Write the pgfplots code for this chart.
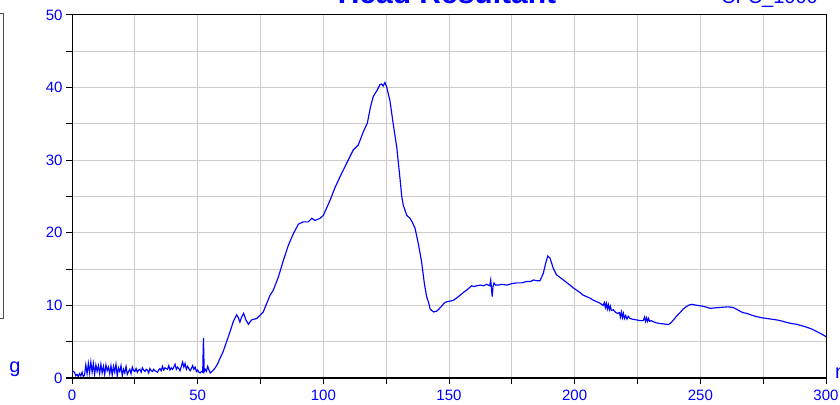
\documentclass[border=0pt]{standalone}
\usepackage{pgfplots}
\pgfplotsset{compat=1.18}
\usepackage{fontspec}
\setmainfont{Liberation Sans}
\definecolor{gridgray}{RGB}{204,204,204}
\definecolor{pblue}{RGB}{0,0,255}
\begin{document}
\begin{tikzpicture}[x=1pt,y=1pt]
\useasboundingbox (0,0) rectangle (840,404);
\begin{axis}[
  at={(72pt,26pt)}, anchor=south west,
  scale only axis, width=754pt, height=363pt,
  xmin=0, xmax=300, ymin=0, ymax=50,
  xtick={0,50,...,300}, minor xtick={25,75,...,275},
  ytick={0,10,...,50}, minor ytick={5,15,...,45},
  grid=both,
  major grid style={gridgray, line width=1pt},
  minor grid style={gridgray, line width=1pt},
  xtick pos=left, ytick pos=left,
  tick align=outside,
  major tick length=6pt, minor tick length=6pt,
  tick style={black, line width=1pt},
  axis line style={black, line width=1pt},
  tick label style={font=\fontsize{15}{15}\selectfont, text=pblue},
  /pgf/number format/assume math mode=true,
  xticklabel style={yshift=-2pt},
]
\addplot[pblue, line width=1.15pt] coordinates {
(0,1.0) (0.5,0.9) (1,0.8) (1.5,0.3) (2,0.5) (2.5,0.2) (3,0.6) (3.5,0.3) (4,0.8) (4.5,0.2)
(5,0.4) (5.5,1.8) (6,0.6) (6.5,2.0) (7,0.7) (7.5,2.2) (8,0.8) (8.5,2.0) (9,0.5) (9.5,1.8)
(10,0.9) (10.5,1.7) (11,0.6) (11.5,1.9) (12,0.7) (12.5,1.6) (13,0.5) (13.5,1.8) (14,1.0) (14.5,1.5)
(15,0.6) (15.5,1.7) (16,0.4) (16.5,1.6) (17,0.8) (17.5,1.9) (18,0.3) (18.5,1.4) (19,0.9) (19.5,1.7)
(20,0.3) (20.5,1.2) (21,0.7) (21.5,1.6) (22,0.5) (22.5,0.9) (23,1.2) (23.5,0.6) (24,1.5) (24.5,1.0)
(25,0.9) (25.5,1.3) (26,0.8) (26.5,1.1) (27,1.2) (27.5,0.8) (28,1.4) (28.5,1.1) (29,0.9) (29.5,1.2)
(30,1.1) (30.5,0.7) (31,1.3) (31.5,1.0) (32,0.9) (32.5,1.2) (33,1.0) (33.5,0.9) (34,0.8) (34.5,1.1)
(35,1.3) (35.5,1.0) (36,1.6) (36.5,1.1) (37,1.4) (37.5,1.3) (38,1.2) (38.5,1.7) (39,1.1) (39.5,1.4)
(40,1.2) (40.5,1.5) (41,1.9) (41.5,1.2) (42,1.5) (42.5,1.3) (43,1.0) (43.5,1.6) (44,2.2) (44.5,1.5)
(45,2.0) (45.5,1.2) (46,1.6) (46.5,1.3) (47,1.0) (47.5,1.3) (48,1.7) (48.5,1.2) (49,1.5) (49.5,0.9)
(50,1.1) (50.5,0.8) (51,0.7) (51.5,0.9) (52,0.8) (52.3,5.5) (52.6,0.9) (53,1.2) (53.5,0.9) (54,1.6)
(54.5,1.1) (55,0.7) (56,1.0) (57,1.4) (58,2.0) (59,2.8) (60,3.5) (61,4.5) (62,5.5) (63,6.5)
(64.2,7.8) (65.5,8.7) (66.2,8.3) (66.8,7.7) (67.5,8.4) (68.3,8.9) (69.2,8.0) (70.2,7.4) (71,7.8) (71.5,8.0)
(73.5,8.2) (75,8.7) (76.1,9.1) (77.5,10.3) (78.8,11.4) (80.1,12.1) (82.1,13.9) (84.1,16.2) (86.1,18.3) (88.1,19.9)
(90.1,21.2) (92,21.5) (94,21.5) (95.4,22.0) (96.7,21.7) (98.7,22.0) (100,22.4) (101.3,23.4) (102.7,24.5) (104.6,26.2)
(107.3,28.2) (109.3,29.6) (111.9,31.4) (113.9,32.1) (115.9,33.9) (117.5,35.1) (118.8,37.4) (119.9,38.8) (121.5,39.7) (122.5,40.4)
(123.2,40.5) (123.8,40.2) (124.5,40.7) (125.2,40.1) (126.5,38.2) (127.8,35.0) (129.2,31.8) (130.5,27.5) (131.2,25.0) (131.8,23.8)
(133.2,22.4) (134.5,22.0) (135.5,21.4) (136.5,20.6) (137.8,18.5) (139.1,16.0) (140.2,13.0) (141.1,11.2) (141.8,10.5) (142.5,9.5)
(143.8,9.1) (145.1,9.2) (146,9.5) (147.1,9.9) (148,10.3) (149.1,10.5) (150.5,10.6) (151.7,10.7) (153,11.0) (154.4,11.4)
(155.8,11.8) (157,12.1) (158,12.4) (159,12.7) (160,12.6) (161,12.7) (162.4,12.8) (163.7,12.7) (165,12.9) (165.6,12.8)
(166.2,12.7) (166.6,13.5) (166.9,12.3) (167.2,11.2) (167.5,12.6) (167.9,13.1) (168.5,12.8) (169.6,12.8) (171,12.9) (173,12.8)
(175,13.0) (176.9,13.1) (179,13.1) (180.9,13.3) (182.5,13.3) (183.6,13.5) (185,13.4) (186.2,13.4) (187.5,14.4) (188.6,16.0)
(189.3,16.8) (190.2,16.5) (191.5,15.1) (192.8,14.2) (194,13.9) (195.5,13.5) (197,13.1) (198.1,12.8) (199.5,12.4) (200.8,12.1)
(202,11.8) (203.4,11.4) (204.8,11.2) (206.1,11.0) (207.5,10.7) (208.8,10.5) (210.1,10.3) (211.3,10.0) (211.8,10.4) (212.2,9.7)
(212.6,10.3) (213.0,9.5) (213.4,10.1) (213.8,9.4) (214.2,9.9) (214.6,9.3) (215.4,9.4) (216.1,9.1) (217,8.9) (217.8,9.0)
(218.2,8.4) (218.6,9.1) (219.0,8.3) (219.4,8.9) (219.8,8.2) (220.3,8.6) (220.8,8.1) (221.3,8.5) (222,8.2) (223,8.1)
(224.7,8.0) (226,7.9) (227.3,7.9) (227.8,8.4) (228.2,7.8) (228.6,8.3) (229,7.8) (229.4,8.2) (229.8,7.8) (230.5,7.9)
(231.3,7.75) (232.5,7.6) (234,7.5) (235.5,7.45) (237.3,7.35) (238.3,7.6) (239.3,8.0)
(240.5,8.5) (241.9,9.0) (243.2,9.5) (244.3,9.8) (245.5,10.05) (246.6,10.15) (248,10.05) (249.9,9.95) (252,9.8) (253.9,9.6)
(255.5,9.65) (257.2,9.7) (259,9.75) (261.1,9.8) (263.1,9.7) (264.5,9.45) (265.8,9.2) (267,9.0) (268.5,8.9) (270.5,8.65)
(272.4,8.45) (274.4,8.3) (276.4,8.2) (278.4,8.1) (280.4,8.0) (282.4,7.85) (284.4,7.65) (286.4,7.5) (288.3,7.4) (290.3,7.2)
(292.3,7.0) (294.3,6.75) (296.3,6.4) (298,6.1) (300,5.7)
};
\draw[black, line width=2pt] (rel axis cs:0,1) -- (rel axis cs:0,0) -- (rel axis cs:1,0);
\end{axis}
\node[anchor=base, text=pblue, font=\fontsize{30}{30}\selectfont\bfseries] at (447,400.5) {Head Resultant};
\node[anchor=base east, text=pblue, font=\fontsize{20}{20}\selectfont, inner sep=0pt] at (818,400) {CFC\_1000};
\node[anchor=base, text=pblue, font=\fontsize{20}{20}\selectfont, inner sep=0pt] at (15,31) {g};
\node[anchor=base west, text=pblue, font=\fontsize{20}{20}\selectfont, inner sep=0pt] at (835,25) {ms};
\draw[black!70, line width=1pt] (-5,390) -- (3,390) -- (3,85) -- (-5,85);
\end{tikzpicture}
\end{document}
